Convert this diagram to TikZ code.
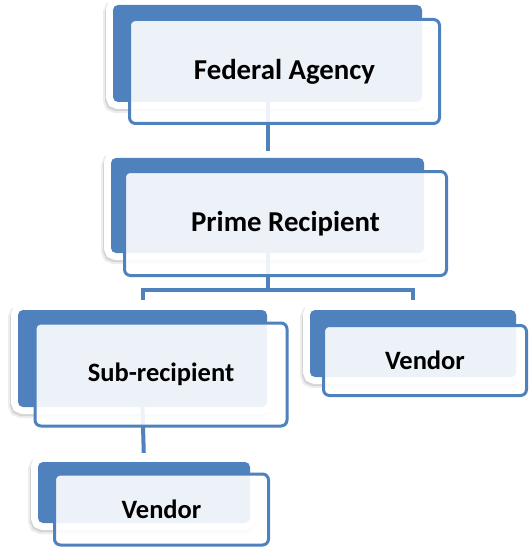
\documentclass[tikz,border=0pt]{standalone}
\usepackage{fontspec}
\setmainfont{Carlito}
\usetikzlibrary{calc}
\definecolor{accent}{HTML}{4F81BD}
\tikzset{
  backbox/.style={rounded corners=5pt, inner sep=0pt, fill=accent,
    preaction={draw=black, fill=black, opacity=0.07, line width=16pt,
      transform canvas={xshift=-2pt, yshift=-3pt}},
    preaction={draw=black, fill=black, opacity=0.10, line width=13pt,
      transform canvas={xshift=-1.5pt, yshift=-2.5pt}},
    preaction={draw=white, fill=white, line width=14pt}},
  frontbox/.style={draw=accent, line width=3pt, rounded corners=6pt,
    fill=white, fill opacity=0.9, text opacity=1, inner sep=0pt,
    font=\bfseries\fontsize{26.5}{30}\selectfont},
  bigtext/.style={font=\bfseries\fontsize{28.8}{32}\selectfont},
  conn/.style={draw=accent, line width=4pt}
}
\begin{document}
\begin{tikzpicture}[x=1pt, y=-1pt]
  \fill[white] (0,0) rectangle (530,548);
  \useasboundingbox (0,0) rectangle (530,548);

  % blue back panels
  \node[backbox, minimum width=309pt, minimum height=97pt] (fedB) at (267.5,53.5) {};
  \node[backbox, minimum width=313pt, minimum height=95pt] (primeB) at (267.5,205.5) {};
  \node[backbox, minimum width=249pt, minimum height=97pt] (subB) at (142.5,358.5) {};
  \node[backbox, minimum width=206pt, minimum height=67pt] (venRB) at (413,343.5) {};
  \node[backbox, minimum width=212pt, minimum height=61pt] (venBB) at (144,492.5) {};

  % hierarchy lines
  \draw[conn, shorten >=7pt] (fedB.south) -- (primeB.north);
  \draw[conn] (primeB.south) -- ++(0,37) coordinate (bus);
  \draw[conn, line join=miter] ([yshift=10pt]subB.north) |- (bus) -| ([yshift=10pt]venRB.north);
  \draw[conn, shorten >=9pt] (subB.south) -- (venBB.north);

  % labelled front panels
  \node[frontbox, bigtext, minimum width=310pt, minimum height=104pt] (fedF) at (284.5,71.5) {Federal Agency};
  \node[frontbox, bigtext, minimum width=322pt, minimum height=104pt] (primeF) at (285.5,223.5) {Prime Recipient};
  \node[frontbox, minimum width=252pt, minimum height=103pt] (subF) at (161,374.5) {Sub-recipient};
  \node[frontbox, minimum width=203pt, minimum height=70pt] (venRF) at (425,360.5) {Vendor};
  \node[frontbox, minimum width=214pt, minimum height=71pt] (venBF) at (161.5,509.5) {Vendor};
\end{tikzpicture}
\end{document}
